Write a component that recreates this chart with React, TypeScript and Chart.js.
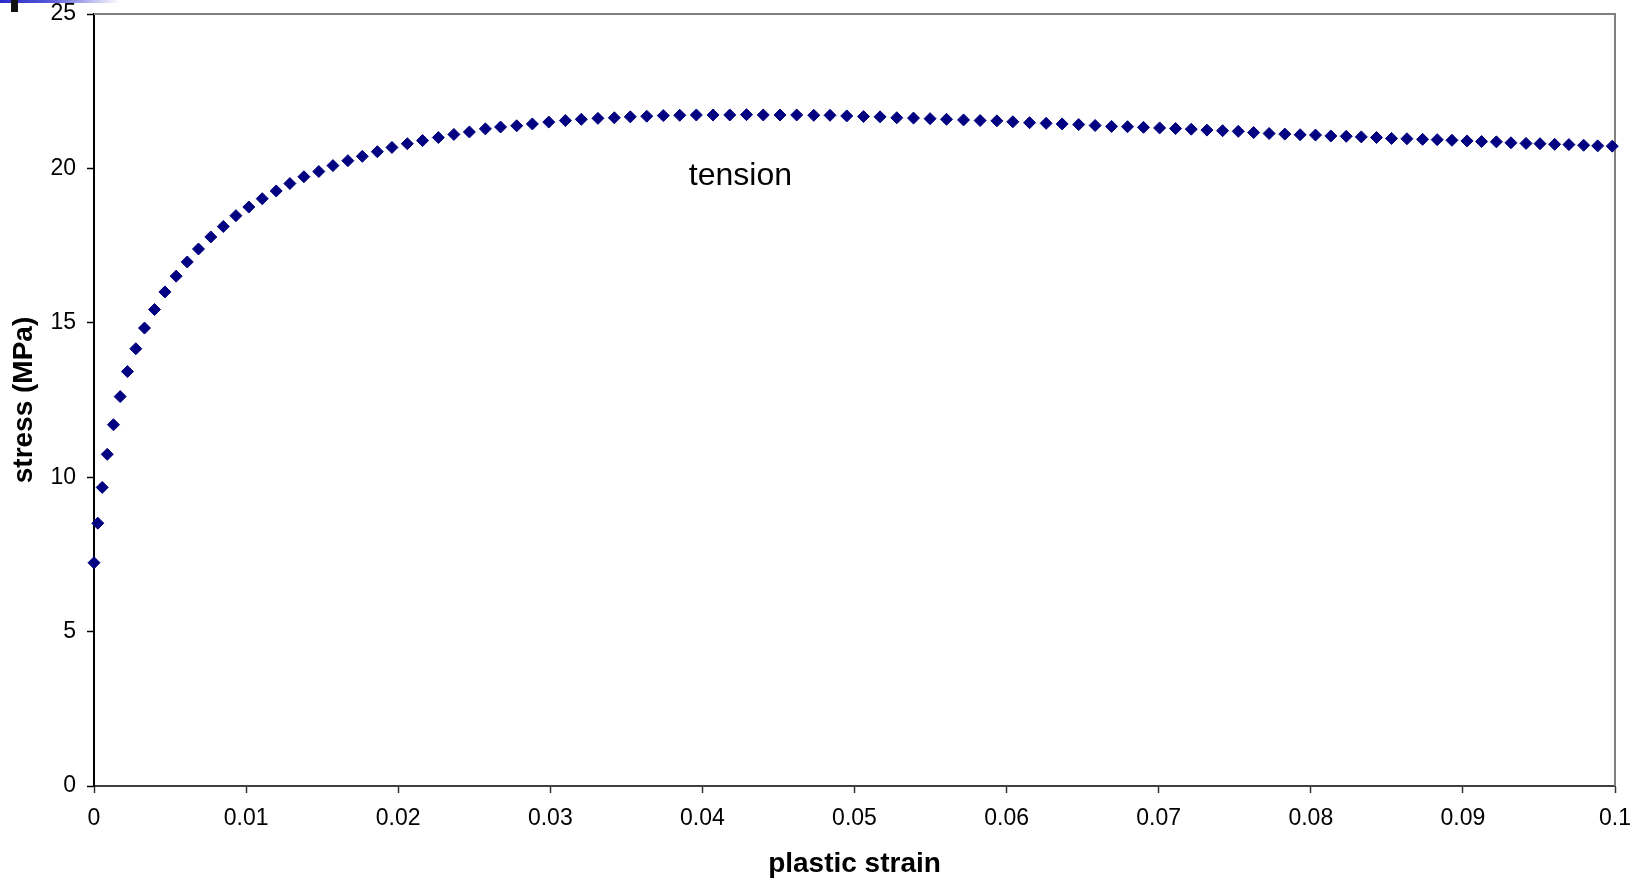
import React, { useEffect, useRef } from 'react';
import { Chart, registerables } from 'chart.js';

Chart.register(...registerables);

// Plastic strain (x) and true stress in MPa (y) of the tension test
const plasticStrain = [
  0, 0.00025, 0.00054, 0.00087, 0.00128, 0.00172, 0.0022, 0.00275, 0.00332, 0.00398,
  0.00466, 0.0054, 0.00613, 0.00687, 0.00768, 0.0085, 0.00933, 0.01018, 0.01106, 0.01198,
  0.01288, 0.0138, 0.01478, 0.01571, 0.01669, 0.01764, 0.01863, 0.01959, 0.0206, 0.0216,
  0.02264, 0.02366, 0.02468, 0.02573, 0.02673, 0.02779, 0.02882, 0.0299, 0.03099, 0.03204,
  0.03313, 0.03421, 0.03526, 0.03634, 0.03743, 0.03851, 0.0396, 0.0407, 0.0418, 0.0429,
  0.044, 0.0451, 0.0462, 0.04732, 0.04839, 0.04949, 0.05059, 0.05168, 0.05278, 0.05388,
  0.05497, 0.05605, 0.05717, 0.05826, 0.05936, 0.06041, 0.06151, 0.0626, 0.06365, 0.06474,
  0.06582, 0.0669, 0.06795, 0.069, 0.07006, 0.07111, 0.07214, 0.07317, 0.0742, 0.07523,
  0.07624, 0.07726, 0.07829, 0.0793, 0.08031, 0.08132, 0.08233, 0.08332, 0.08432, 0.08531,
  0.08632, 0.08735, 0.08831, 0.08928, 0.09027, 0.09123, 0.0922, 0.09316, 0.09415, 0.09507,
  0.09603, 0.09697, 0.09794, 0.09886, 0.09982,
];

const stressMPa = [
  7.23, 8.51, 9.67, 10.74, 11.7, 12.61, 13.42, 14.16, 14.83, 15.43,
  16.0, 16.51, 16.97, 17.39, 17.78, 18.12, 18.47, 18.75, 19.02, 19.27,
  19.51, 19.73, 19.9, 20.09, 20.25, 20.39, 20.54, 20.68, 20.8, 20.9,
  21.0, 21.1, 21.18, 21.28, 21.34, 21.38, 21.44, 21.5, 21.55, 21.59,
  21.62, 21.64, 21.67, 21.69, 21.71, 21.72, 21.73, 21.73, 21.73, 21.74,
  21.73, 21.73, 21.73, 21.72, 21.72, 21.7, 21.68, 21.67, 21.64, 21.63,
  21.61, 21.59, 21.57, 21.55, 21.54, 21.51, 21.48, 21.46, 21.44, 21.42,
  21.39, 21.36, 21.35, 21.33, 21.31, 21.29, 21.27, 21.24, 21.22, 21.2,
  21.16, 21.13, 21.11, 21.09, 21.08, 21.05, 21.04, 21.02, 21.0, 20.97,
  20.96, 20.94, 20.93, 20.91, 20.89, 20.87, 20.86, 20.83, 20.81, 20.8,
  20.78, 20.77, 20.75, 20.73, 20.72,
];

const xTickLabels = ['0', '0.01', '0.02', '0.03', '0.04', '0.05', '0.06', '0.07', '0.08', '0.09', '0.1'];
const yTickLabels = ['0', '5', '10', '15', '20', '25'];

const xTitle = 'plastic strain';
const yTitle = 'stress (MPa)';

// In-plot curve label, placed in data coordinates
const curveLabel = 'tension';
const curveLabelStrain = 0.0425;
const curveLabelStress = 19.47;

const FONT = '"Liberation Sans", Arial, Helvetica, sans-serif';

export default function App() {
  const canvasRef = useRef<HTMLCanvasElement>(null);

  useEffect(() => {
    const canvas = canvasRef.current;
    if (!canvas) return;

    // Grey frame on the top and right edges of the plot area
    const frame = {
      id: 'plotFrame',
      beforeDatasetsDraw(chart: any) {
        const { ctx, chartArea: a } = chart;
        ctx.save();
        ctx.strokeStyle = '#808080';
        ctx.lineWidth = 2;
        ctx.beginPath();
        ctx.moveTo(a.left, a.top);
        ctx.lineTo(a.right, a.top);
        ctx.lineTo(a.right, a.bottom);
        ctx.stroke();
        ctx.restore();
      },
    };

    const textLabel = {
      id: 'curveLabel',
      afterDatasetsDraw(chart: any) {
        const { ctx, scales } = chart;
        const px = scales.x.getPixelForValue(curveLabelStrain);
        const py = scales.y.getPixelForValue(curveLabelStress);
        ctx.save();
        ctx.font = `32px ${FONT}`;
        ctx.fillStyle = '#000';
        ctx.textAlign = 'center';
        ctx.textBaseline = 'alphabetic';
        ctx.fillText(curveLabel, px, py);
        ctx.restore();
      },
    };

    const tickFont = { family: FONT, size: 23 };
    const titleFont = { family: FONT, size: 28, weight: 'bold' as const, lineHeight: 1 };

    const chart = new Chart(canvas, {
      type: 'scatter',
      data: {
        datasets: [
          {
            data: plasticStrain.map((x, i) => ({ x, y: stressMPa[i] })),
            pointStyle: 'rectRot',
            pointRadius: 6,
            pointHoverRadius: 6,
            backgroundColor: '#000080',
            borderColor: '#000080',
            borderWidth: 1,
            showLine: false,
            clip: false,
          },
        ],
      },
      options: {
        responsive: false,
        animation: false,
        events: [],
        layout: { padding: { left: 0, top: 14, right: 34, bottom: 0 } },
        plugins: {
          legend: { display: false },
          tooltip: { enabled: false },
        },
        scales: {
          x: {
            type: 'linear',
            min: 0,
            max: 0.1,
            afterFit(scale: any) {
              scale.height = 92;
              scale.paddingLeft = 0;
              scale.paddingRight = 0;
            },
            ticks: {
              stepSize: 0.01,
              autoSkip: false,
              maxRotation: 0,
              padding: 12,
              color: '#000',
              font: tickFont,
              callback: (v: any) => xTickLabels[Math.round(Number(v) / 0.01)] ?? '',
            },
            grid: {
              drawOnChartArea: false,
              tickLength: 7,
              tickWidth: 1.5,
              tickColor: '#333',
            },
            border: { color: '#404040', width: 2 },
            title: {
              display: true,
              text: xTitle,
              color: '#000',
              font: titleFont,
              padding: { top: 0, bottom: 0 },
            },
          },
          y: {
            type: 'linear',
            min: 0,
            max: 25,
            afterFit(scale: any) {
              scale.width = 94;
              scale.paddingTop = 0;
              scale.paddingBottom = 0;
            },
            ticks: {
              stepSize: 5,
              autoSkip: false,
              padding: 11,
              color: '#000',
              font: tickFont,
              callback: (v: any) => yTickLabels[Math.round(Number(v) / 5)] ?? '',
            },
            grid: {
              drawOnChartArea: false,
              tickLength: 7,
              tickWidth: 1.5,
              tickColor: '#000',
            },
            border: { color: '#000', width: 2 },
            title: {
              display: true,
              text: yTitle,
              color: '#000',
              font: titleFont,
              padding: { top: 10, bottom: 0 },
            },
          },
        },
      },
      plugins: [frame, textLabel],
    });

    return () => chart.destroy();
  }, []);

  return (
    <div
      style={{
        position: 'fixed',
        left: 0,
        top: 0,
        width: 1649,
        height: 878,
        background: '#fff',
        overflow: 'hidden',
      }}
    >
      <canvas ref={canvasRef} width={1649} height={878} style={{ display: 'block' }} />
      {/* slide header accent in the top-left corner */}
      <div
        style={{
          position: 'absolute',
          left: 0,
          top: 0,
          width: 120,
          height: 3,
          background: 'linear-gradient(to right, #2a2ac8 0%, #5555d8 40%, rgba(255,255,255,0) 100%)',
        }}
      />
      <div
        style={{
          position: 'absolute',
          left: 11,
          top: 0,
          width: 7,
          height: 12,
          background: '#111',
        }}
      />
    </div>
  );
}
